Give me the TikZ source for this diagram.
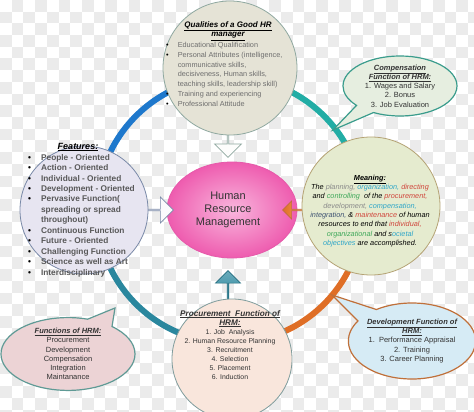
\documentclass[tikz,border=0pt]{standalone}
\usepackage{fontspec}
\setmainfont{Liberation Sans}
\usetikzlibrary{shapes.geometric,shapes.arrows,shapes.callouts}

\definecolor{checkgray}{HTML}{EBEBEB}
\definecolor{ringblue}{HTML}{1E78CC}
\definecolor{ringteal}{HTML}{22ADA5}
\definecolor{ringorange}{HTML}{DF6E26}
\definecolor{ringdark}{HTML}{2A879E}
\definecolor{qualfill}{HTML}{E5E3D6}
\definecolor{qualline}{HTML}{8FA8A0}
\definecolor{featfill}{HTML}{E7E5F1}
\definecolor{featline}{HTML}{7A8AA8}
\definecolor{meanfill}{HTML}{E5EBCF}
\definecolor{meanline}{HTML}{B4A274}
\definecolor{procfill}{HTML}{F9E6DC}
\definecolor{procline}{HTML}{7F9C9C}
\definecolor{hrminner}{HTML}{F9B6DD}
\definecolor{hrmouter}{HTML}{EE5CAF}
\definecolor{hrmline}{HTML}{E65AAA}
\definecolor{compfill}{HTML}{E6EEE0}
\definecolor{compline}{HTML}{3A9C8C}
\definecolor{devfill}{HTML}{D6EBF5}
\definecolor{devline}{HTML}{C0703A}
\definecolor{funcfill}{HTML}{ECD3D5}
\definecolor{funcline}{HTML}{5F9A95}
\definecolor{textgray}{HTML}{6E6E6E}
\definecolor{featgray}{HTML}{585858}
\definecolor{bodytext}{HTML}{333333}
\definecolor{mgray}{HTML}{8A8A8A}
\definecolor{mcyan}{HTML}{2FA6C8}
\definecolor{mred}{HTML}{D0463C}
\definecolor{mgreen}{HTML}{3FA85A}
\definecolor{mnavy}{HTML}{3E5272}

\newcommand{\boxtitle}[1]{\textbf{\textit{\underline{#1}}}}

\begin{document}
\begin{tikzpicture}[x=1pt,y=-1pt,
    bigcircle/.style={circle, draw, line width=0.8pt, inner sep=0pt},
    ringarc/.style={line width=6pt},
    blockarrow/.style={single arrow, draw, line width=0.7pt, inner sep=0pt},
    bubble/.style={ellipse callout, draw, line width=1.2pt, inner sep=0pt, align=center,
        text=bodytext, font=\fontsize{7.5}{9.2}\selectfont},
    listtext/.style={anchor=west, inner sep=0pt}]
    \useasboundingbox (0,0) rectangle (474,412);
    % Background:
    \begin{scope}
        \clip (0,0) rectangle (474,412);
        \fill[white] (0,0) rectangle (474,412);
        \foreach \i in {0,...,40}{
            \foreach \j in {0,...,35}{
                \pgfmathtruncatemacro\chk{mod(\i+\j,2)}
                \ifnum\chk=1 \fill[checkgray] (\i*11.7,\j*11.7) rectangle ++(11.7,11.7); \fi
            }
        }
    \end{scope}
    % Ring:
    \coordinate (ring) at (230,210);
    \draw[ringarc, ringblue] (ring) ++(180:133) arc[start angle=180, end angle=270, radius=133];
    \draw[ringarc, ringteal] (ring) ++(270:133) arc[start angle=270, end angle=360, radius=133];
    \draw[ringarc, ringorange] (ring) ++(0:133) arc[start angle=0, end angle=90, radius=133];
    \draw[ringarc, ringdark] (ring) ++(90:133) arc[start angle=90, end angle=180, radius=133];
    % Centre:
    \node[ellipse, draw=hrmline, line width=0.8pt, shading=radial, inner color=hrminner, outer color=hrmouter,
        minimum width=130, minimum height=96] (hrm) at (232,210) {};
    \node[align=center, text=bodytext, font=\fontsize{11}{13}\selectfont] (hrmtext) at (228,210)
        {Human\\Resource\\Management};
    % Arrows into the centre:
    \node[blockarrow, draw=qualline, fill=white!92!qualfill, minimum height=32, minimum width=27,
        single arrow head extend=5.5, shape border rotate=270] (qualarrow) at (228,141) {};
    \node[blockarrow, draw=featline, fill=white!85!featfill, minimum height=33, minimum width=26,
        single arrow head extend=5.5, shape border rotate=0] (featarrow) at (156.5,210) {};
    \node[blockarrow, draw=devline, left color=ringorange, right color=orange!60, minimum height=28, minimum width=18,
        single arrow head extend=4, shape border rotate=180] (meanarrow) at (297,210) {};
    \node[blockarrow, draw=ringdark!80!black, top color=ringdark!70, bottom color=ringdark, minimum height=31, minimum width=25,
        single arrow head extend=5.5, shape border rotate=90] (procarrow) at (228,286.5) {};
    % Circles:
    \node[bigcircle, draw=qualline, fill=qualfill, minimum size=134] (qual) at (230,68) {};
    \node[bigcircle, draw=featline, fill=featfill, minimum size=128] (feat) at (84,210) {};
    \node[bigcircle, draw=meanline, fill=meanfill, minimum size=138] (mean) at (371,206) {};
    \node[bigcircle, draw=procline, fill=procfill, minimum size=120] (proc) at (232,359) {};
    % Callouts:
    \node[bubble, draw=compline, fill=compfill, minimum width=114, minimum height=60,
        callout absolute pointer={(333,130)}, callout pointer arc=22] (comp) at (400,86)
        {\boxtitle{Compensation}\\\boxtitle{Function of HRM:}\\1. Wages and Salary\\2. Bonus\\3. Job Evaluation};
    \node[bubble, draw=devline, fill=devfill, minimum width=120, minimum height=76,
        callout absolute pointer={(332,295)}, callout pointer arc=24] (dev) at (412,341)
        {\boxtitle{Development Function of}\\\boxtitle{HRM:}\\1.\ \ Performance Appraisal\\2. Training\\3. Career Planning};
    \node[bubble, draw=funcline, fill=funcfill, minimum width=134, minimum height=64,
        callout absolute pointer={(115,308)}, callout pointer arc=24] (func) at (68,354)
        {\boxtitle{Functions of HRM:}\\Procurement\\Development\\Compensation\\Integration\\Maintanance};
    % Texts in the circles:
    \node[align=center, font=\fontsize{8}{9.6}\selectfont] (qualtitle) at (228,31)
        {\boxtitle{Qualities of a Good HR}\\\boxtitle{manager}};
    \node[listtext, text=textgray, font=\fontsize{7.3}{9.7}\selectfont] (quallist) at (166,75)
        {\begin{tabular}{@{}l@{\hspace{9pt}}l@{}}
            \textcolor{black}{\textbullet} & Educational Qualification\\
            \textcolor{black}{\textbullet} & Personal Attributes (intelligence,\\
            & communicative skills,\\
            & decisiveness, Human skills,\\
            & teaching skills, leadership skill)\\
            \textcolor{black}{\textbullet} & Training and experiencing\\
            \textcolor{black}{\textbullet} & Professional Attitude
        \end{tabular}};
    \node[font=\fontsize{9}{10}\selectfont] (feattitle) at (78,147) {\boxtitle{Features:}};
    \node[listtext, text=featgray, font=\fontsize{8.3}{10.45}\selectfont\bfseries] (featlist) at (28,215.5)
        {\begin{tabular}{@{}l@{\hspace{10pt}}l@{}}
            \textcolor{black}{\textbullet} & People - Oriented\\
            \textcolor{black}{\textbullet} & Action - Oriented\\
            \textcolor{black}{\textbullet} & Individual - Oriented\\
            \textcolor{black}{\textbullet} & Development - Oriented\\
            \textcolor{black}{\textbullet} & Pervasive Function(\\
            & spreading or spread\\
            & throughout)\\
            \textcolor{black}{\textbullet} & Continuous Function\\
            \textcolor{black}{\textbullet} & Future - Oriented\\
            \textcolor{black}{\textbullet} & Challenging Function\\
            \textcolor{black}{\textbullet} & Science as well as Art\\
            \textcolor{black}{\textbullet} & Interdisciplinary
        \end{tabular}};
    \node[align=center, font=\fontsize{7.3}{9.3}\selectfont\itshape] (meantext) at (370,211)
        {\boxtitle{Meaning:}\\
        The \textcolor{mgray}{planning,} \textcolor{mcyan}{organization,} \textcolor{mred}{directing}\\
        and \textcolor{mgreen}{controlling}\ \ of the \textcolor{mred}{procurement,}\\
        \textcolor{mgray}{development,} \textcolor{mcyan}{compensation,}\\
        \textcolor{mnavy}{integration,} \& \textcolor{mred}{maintenance} of human\\
        resources to end that \textcolor{mred}{individual,}\\
        \textcolor{mgreen}{organizational} and s\textcolor{mcyan}{ocietal}\\
        \textcolor{mcyan}{objectives} are accomplished.};
    \node[align=center, text=bodytext, font=\fontsize{6.9}{9.1}\selectfont] (proctext) at (230,345)
        {\fontsize{8.2}{9.1}\selectfont\boxtitle{Procurement\ \ Function of}\\
        \fontsize{8.2}{9.1}\selectfont\boxtitle{HRM:}\\1. Job\ \ Analysis\\2. Human Resource Planning\\
        3. Recruitment\\4. Selection\\5. Placement\\6. Induction};
\end{tikzpicture}
\end{document}
